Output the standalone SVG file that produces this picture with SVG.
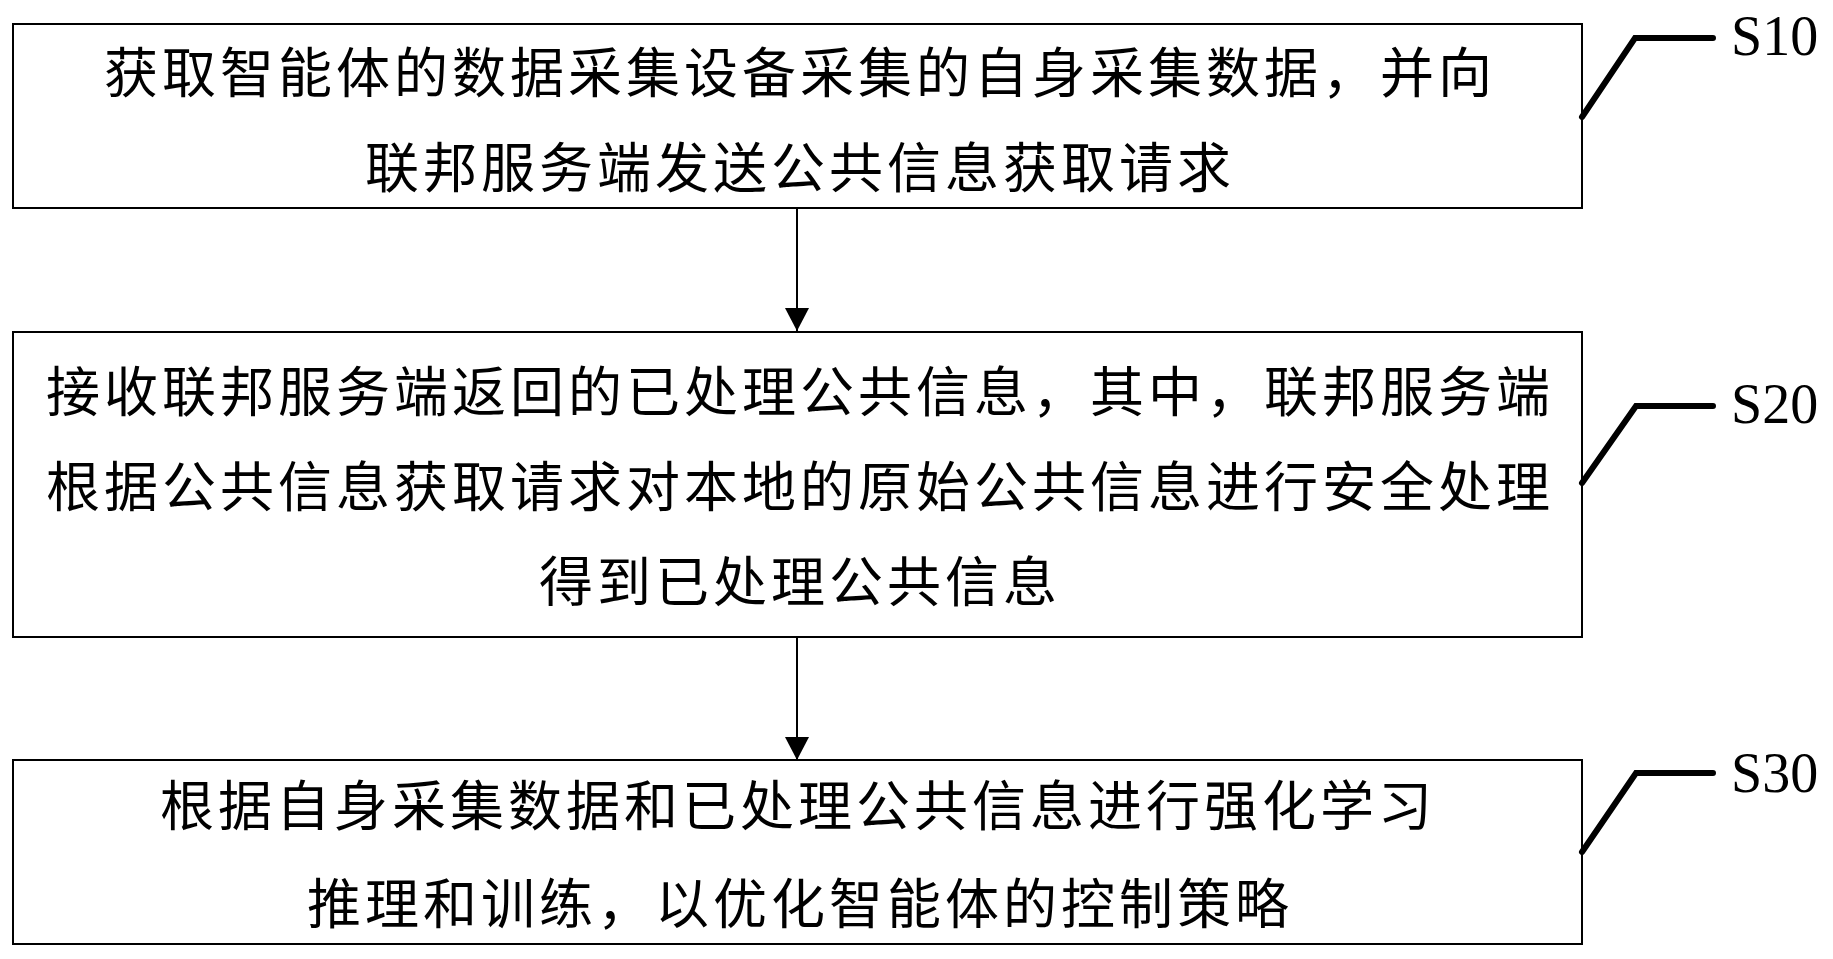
<svg xmlns="http://www.w3.org/2000/svg" width="1833" height="959" viewBox="0 0 1833 959">
<style>
.box{fill:#fff;stroke:#000;stroke-width:2}
.t{font-family:"Noto Sans CJK SC","Noto Sans CJK JP",sans-serif;font-size:54px;letter-spacing:4px;text-anchor:middle;fill:#000}
.lab{font-family:"Liberation Serif","Times New Roman",serif;font-size:56px;fill:#000}
.lead{fill:none;stroke:#000;stroke-width:6;stroke-linecap:round;stroke-linejoin:miter}
.conn{stroke:#000;stroke-width:2;fill:none}
</style>
<defs>
<marker id="arr" markerUnits="userSpaceOnUse" markerWidth="24" markerHeight="24" viewBox="0 0 23 24" refX="23" refY="12" orient="auto">
<path d="M0,0 L23,12 L0,24 z" fill="#000"/>
</marker>
</defs>
<rect width="1833" height="959" fill="#fff"/>
<g id="connectors">
<line class="conn" x1="797" y1="208" x2="797" y2="331" marker-end="url(#arr)"/>
<line class="conn" x1="797" y1="637" x2="797" y2="760" marker-end="url(#arr)"/>
</g>
<g id="S10">
<rect class="box" x="13" y="24" width="1569" height="184"/>
<text class="t" x="800" y="93">获取智能体的数据采集设备采集的自身采集数据，并向</text>
<text class="t" x="800" y="188">联邦服务端发送公共信息获取请求</text>
<path class="lead" d="M1582,117 L1635,38 L1713,38"/>
<text class="lab" x="1731" y="55">S10</text>
</g>
<g id="S20">
<rect class="box" x="13" y="332" width="1569" height="305"/>
<text class="t" x="800" y="412">接收联邦服务端返回的已处理公共信息，其中，联邦服务端</text>
<text class="t" x="800" y="507">根据公共信息获取请求对本地的原始公共信息进行安全处理</text>
<text class="t" x="800" y="602">得到已处理公共信息</text>
<path class="lead" d="M1582,483 L1636,406 L1713,406"/>
<text class="lab" x="1731" y="423">S20</text>
</g>
<g id="S30">
<rect class="box" x="13" y="760" width="1569" height="184"/>
<text class="t" x="798" y="826">根据自身采集数据和已处理公共信息进行强化学习</text>
<text class="t" x="800" y="924">推理和训练，以优化智能体的控制策略</text>
<path class="lead" d="M1582,852 L1636,773 L1713,773"/>
<text class="lab" x="1731" y="792">S30</text>
</g>
</svg>
